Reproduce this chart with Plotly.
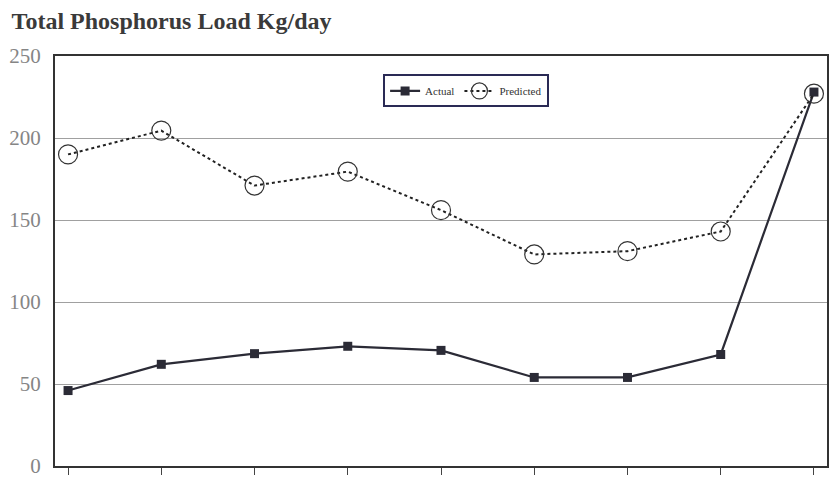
import plotly.graph_objects as go

# Sampling periods along the x axis
periods = [1, 2, 3, 4, 5, 6, 7, 8, 9]

# Total phosphorus load, kg/day
actual = [46, 62, 68.5, 73, 70.5, 54, 54, 68, 228]
predicted = [190, 204.5, 171, 179.5, 156, 129, 131, 143, 227]

y_ticks = [0, 50, 100, 150, 200, 250]

fig = go.Figure()

fig.add_trace(go.Scatter(
    x=periods, y=actual, name="Actual", mode="lines+markers",
    line=dict(color="#2b2b36", width=2.2),
    marker=dict(symbol="square", size=9, color="#2b2b36"),
))
fig.add_trace(go.Scatter(
    x=periods, y=predicted, name="Predicted", mode="lines+markers",
    line=dict(color="#222222", width=2, dash="dot"),
    marker=dict(symbol="circle-open", size=19, color="#333333", line=dict(width=1.2)),
))

fig.update_layout(
    width=829, height=478,
    margin=dict(l=55, r=0, t=56, b=10),
    paper_bgcolor="white", plot_bgcolor="white",
    title=dict(text="<b>Total Phosphorus Load Kg/day</b>", x=0.014, xanchor="left",
               y=0.957, yanchor="middle",
               font=dict(family="Liberation Serif", size=24, color="#3a3a3a")),
    font=dict(family="Liberation Serif", color="#777777"),
    showlegend=True,
    legend=dict(orientation="h", x=0.425, y=0.955, xanchor="left", yanchor="top",
                bgcolor="white", bordercolor="#2a2a55", borderwidth=2,
                font=dict(family="Liberation Serif", size=11, color="#333333"),
                itemwidth=30, tracegroupgap=0),
    xaxis=dict(range=[0.86, 9.14], tickvals=periods, ticktext=[""] * len(periods),
               ticks="outside", ticklen=7, tickcolor="#444444",
               showgrid=False, zeroline=False,
               showline=True, linecolor="#333333", linewidth=2, mirror=True),
    yaxis=dict(range=[0, 250], tickvals=y_ticks, ticks="", showgrid=True,
               gridcolor="#a0a0a0", gridwidth=1, zeroline=False,
               showline=True, linecolor="#333333", linewidth=2, mirror=True,
               ticklabelstandoff=8, ticklabeloverflow="allow",
               tickfont=dict(family="Liberation Serif", size=21, color="#858585")),
)

fig.write_html("out.html")
